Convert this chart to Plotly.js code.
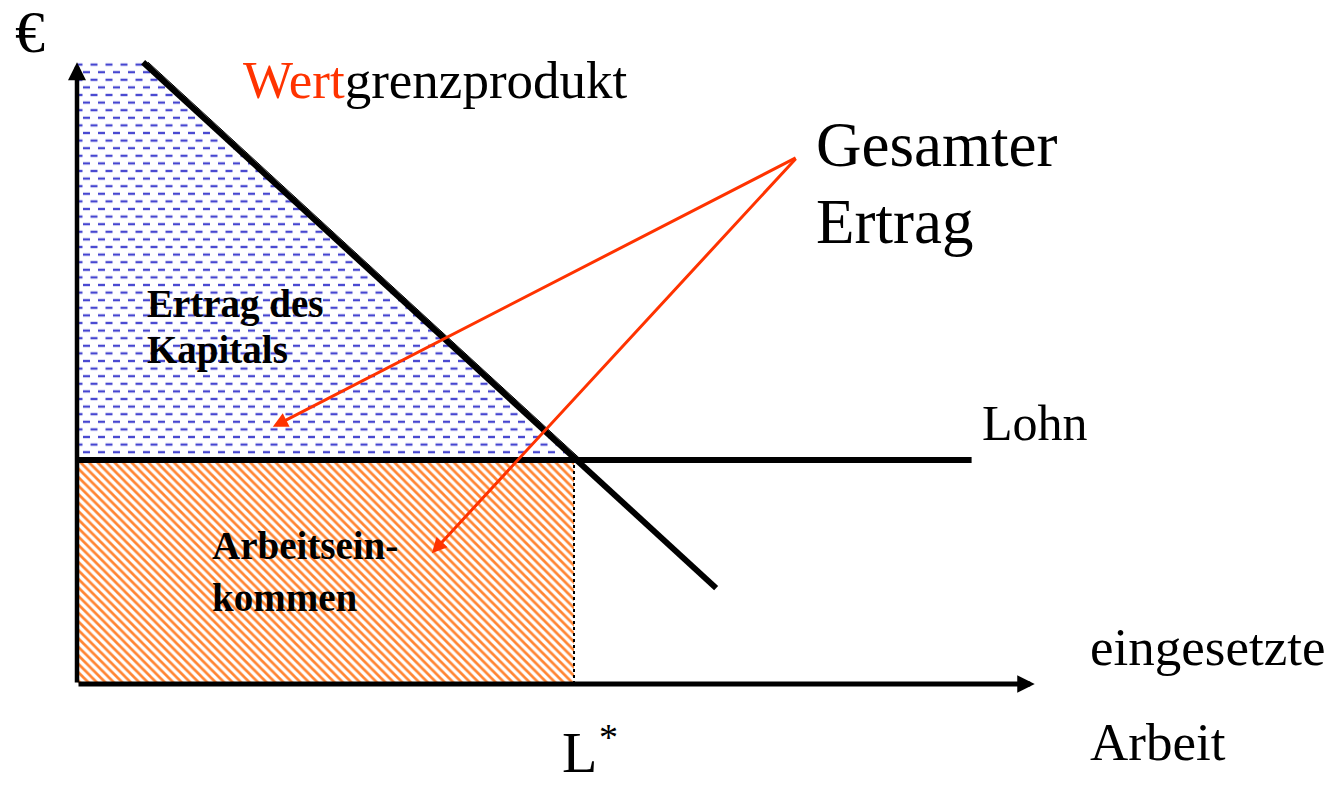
<!DOCTYPE html>
<html>
<head>
<meta charset="utf-8">
<script src="https://cdn.plot.ly/plotly-3.0.1.min.js"></script>
<style>html,body{margin:0;padding:0;background:#fff;}#chart{width:1331px;height:790px;}</style>
</head>
<body>
<div id="chart"></div>
<script>
// ---- data (economic units: L = labour, P = €) ----
const lStar = 10;            // equilibrium employment L*
const wage = 5;              // Lohn
const wageEndL = 18;         // where the wage line ends
const mplL = [1.33, 12.86];  // Wertgrenzprodukt line
const mplP = [13.88, 2.14];
const yAxisTop = 13.88;      // tip of € axis
const xAxisEnd = 19.27;      // tip of labour axis
const capitalL = [0, 0, 1.33, 10, 0];   // Ertrag des Kapitals area
const capitalP = [5, 13.88, 13.88, 5, 5];
const labourL = [0, 0, 10, 10, 0];      // Arbeitseinkommen area
const labourP = [0, 5, 5, 0, 0];
const arrowFrom = [14.49, 11.76];        // "Gesamter Ertrag" arrows start
const arrowToL = [3.94, 7.14];
const arrowToP = [5.74, 2.92];

const RED = '#ff3300';
const BLUE = 'rgb(70, 70, 208)';
const serif = 'Liberation Serif, Times New Roman, serif';

const traces = [
  {x: labourL, y: labourP, mode: 'lines', fill: 'toself', line: {width: 0, color: 'rgba(0,0,0,0)'},
   fillcolor: 'white',
   fillpattern: {shape: '\\', fgcolor: '#ff8533', bgcolor: 'white', size: 6, solidity: 0.45},
   hoverinfo: 'skip'},
  {x: capitalL, y: capitalP, mode: 'lines', fill: 'toself', line: {width: 0, color: 'rgba(0,0,0,0)'},
   fillcolor: 'white',
   fillpattern: {shape: '-', fgcolor: BLUE, bgcolor: 'white', size: 7.6, solidity: 0.28},
   hoverinfo: 'skip'},
  // thin outline along the capital triangle
  {x: [capitalL[2] + 0.1, capitalL[3] + 0.15], y: [capitalP[2], capitalP[3]], mode: 'lines',
   line: {color: 'black', width: 1}, hoverinfo: 'skip'},
  // dotted L* line
  {x: [lStar, lStar], y: [0, wage], mode: 'lines', line: {color: 'black', width: 2, dash: 'dot'}, hoverinfo: 'skip'},
  // wage line
  {x: [0, wageEndL], y: [wage, wage], mode: 'lines', line: {color: 'black', width: 6}, hoverinfo: 'skip'},
  // value of marginal product
  {x: mplL, y: mplP, mode: 'lines', line: {color: 'black', width: 6}, hoverinfo: 'skip'}
];

function txt(px, py, text, size, bold, color) {
  return {xref: 'paper', yref: 'paper', x: px / 1331, y: 1 - py / 790, xanchor: 'left', yanchor: 'middle',
    text: bold ? '<b>' + text + '</b>' : text, showarrow: false,
    font: {family: serif, size: size, color: color || 'black'}};
}

const annotations = [
  // axes with arrow heads
  {x: xAxisEnd, y: 0, ax: 0, ay: 0, xref: 'x', yref: 'y', axref: 'x', ayref: 'y', text: '', showarrow: true,
   arrowhead: 2, arrowsize: 0.7, arrowwidth: 5, arrowcolor: 'black'},
  {x: 0, y: yAxisTop, ax: 0, ay: 0, xref: 'x', yref: 'y', axref: 'x', ayref: 'y', text: '', showarrow: true,
   arrowhead: 2, arrowsize: 0.8, arrowwidth: 4.5, arrowcolor: 'black'},
  // red arrows
  ...arrowToL.map((l, i) => ({x: l, y: arrowToP[i], ax: arrowFrom[0], ay: arrowFrom[1], xref: 'x', yref: 'y',
    axref: 'x', ayref: 'y', text: '', showarrow: true, arrowhead: 2, arrowsize: 1, arrowwidth: 3, arrowcolor: RED})),
  // labels
  txt(13, 32, '€', 60),
  txt(241, 80, '<span style="color:' + RED + '">Wert</span>grenzprodukt', 53),
  txt(814, 145, 'Gesamter', 63),
  txt(814, 222, 'Ertrag', 63),
  txt(980, 423, 'Lohn', 50),
  txt(1088, 647, 'eingesetzte', 53),
  txt(1088, 742, 'Arbeit', 53),
  txt(560, 752, 'L', 58),
  txt(597, 737, '*', 38),
  txt(145, 304, 'Ertrag des', 39, true),
  txt(145, 350, 'Kapitals', 39, true),
  txt(210, 545, 'Arbeitsein-', 39, true),
  txt(210, 597, 'kommen', 39, true)
];

const layout = {
  width: 1331, height: 790,
  margin: {l: 0, r: 0, t: 0, b: 0},
  paper_bgcolor: 'white', plot_bgcolor: 'white',
  showlegend: false,
  xaxis: {range: [-77 / 49.7, (1331 - 77) / 49.7], visible: false, fixedrange: true},
  yaxis: {range: [-106 / 44.8, 684 / 44.8], visible: false, fixedrange: true},
  annotations: annotations
};

// turn the horizontal-line pattern into staggered short dashes, as in the reference
function dashPatterns() {
  document.querySelectorAll('pattern').forEach(function (p) {
    if (p.getAttribute('data-dashed')) return;
    const path = p.querySelector('path');
    if (!path) return;
    if ((path.getAttribute('stroke') || '').replace(/\s/g, '') !== BLUE.replace(/\s/g, '')) return;
    p.setAttribute('data-dashed', '1');
    p.setAttribute('width', '15px');
    p.setAttribute('height', '15.2px');
    const rect = p.querySelector('rect');
    if (rect) { rect.setAttribute('width', '15px'); rect.setAttribute('height', '15.2px'); }
    const p2 = path.cloneNode(true);
    path.setAttribute('d', 'M0.5,3.8L7.5,3.8');
    path.setAttribute('stroke-width', '2.3px');
    p2.setAttribute('d', 'M8,11.4L15,11.4');
    p2.setAttribute('stroke-width', '2.3px');
    p.appendChild(p2);
  });
}

Plotly.newPlot('chart', traces, layout, {staticPlot: true, displayModeBar: false});
try { dashPatterns(); } catch (e) {}
</script>
</body>
</html>
